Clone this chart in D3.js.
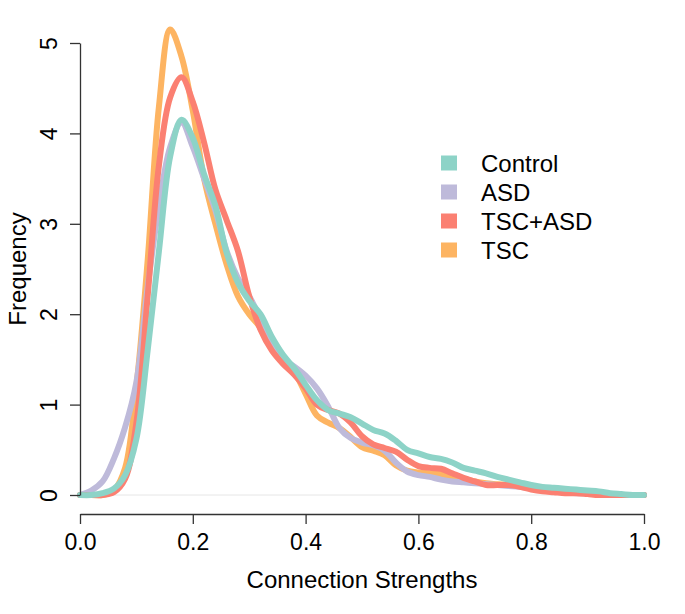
<!DOCTYPE html>
<html>
<head>
<meta charset="utf-8">
<script src="https://cdn.jsdelivr.net/npm/d3@7"></script>
<style>
  html, body { margin: 0; padding: 0; background: #fff; }
  svg text { font-family: "Liberation Sans", Arial, Helvetica, sans-serif; fill: #000; }
</style>
</head>
<body>
<svg id="chart" width="685" height="614"></svg>
<script>
const xValues = [0.00,0.02,0.04,0.06,0.08,0.10,0.12,0.14,0.16,0.18,0.20,0.22,0.24,0.26,0.28,0.30,0.32,0.34,0.36,0.38,0.40,0.42,0.44,0.46,0.48,0.50,0.52,0.54,0.56,0.58,0.60,0.62,0.64,0.66,0.68,0.70,0.72,0.74,0.76,0.78,0.80,0.82,0.84,0.86,0.88,0.90,0.92,0.94,0.96,0.98,1.00];

const controlValues = [0,0.00,0.02,0.07,0.22,0.62,1.60,2.70,3.75,4.15,3.95,3.55,3.20,2.68,2.35,2.15,2.00,1.75,1.55,1.40,1.22,1.05,0.94,0.90,0.86,0.79,0.72,0.68,0.60,0.50,0.46,0.42,0.40,0.36,0.30,0.27,0.24,0.20,0.17,0.14,0.11,0.09,0.08,0.07,0.06,0.05,0.04,0.02,0.01,0.00,0];
const asdValues = [0,0.05,0.15,0.40,0.75,1.25,2.30,3.20,3.85,4.12,3.85,3.50,3.15,2.70,2.40,2.20,1.95,1.65,1.50,1.42,1.32,1.18,0.98,0.74,0.63,0.58,0.55,0.49,0.36,0.26,0.22,0.20,0.17,0.15,0.14,0.13,0.12,0.11,0.10,0.09,0.07,0.05,0.04,0.03,0.02,0.02,0.01,0.01,0.00,0.00,0];
const tscAsdValues = [0,0.00,0.00,0.03,0.18,0.80,2.20,3.65,4.40,4.62,4.35,3.90,3.38,3.04,2.70,2.20,1.83,1.60,1.45,1.33,1.18,1.00,0.94,0.90,0.80,0.65,0.56,0.52,0.48,0.39,0.32,0.30,0.29,0.24,0.19,0.15,0.11,0.11,0.11,0.09,0.06,0.04,0.03,0.02,0.02,0.01,0.00,0.00,0.00,0.00,0];
const tscValues = [0,0.00,0.00,0.05,0.30,1.20,2.60,4.30,5.15,4.85,4.25,3.50,3.00,2.55,2.20,2.00,1.85,1.62,1.50,1.36,1.12,0.88,0.80,0.74,0.64,0.53,0.49,0.44,0.33,0.27,0.25,0.24,0.23,0.20,0.18,0.15,0.13,0.12,0.11,0.10,0.08,0.06,0.05,0.04,0.03,0.02,0.01,0.01,0.00,0.00,0];

const seriesNames = ["Control","ASD","TSC+ASD","TSC"];
const seriesColors = ["#8DD3C7","#BEBADA","#FB8072","#FDB462"];
const seriesValues = [controlValues, asdValues, tscAsdValues, tscValues];
const drawOrder = [3, 1, 2, 0];

const xTicks = [0, 0.2, 0.4, 0.6, 0.8, 1.0];
const yTicks = [0, 1, 2, 3, 4, 5];
const xTitle = "Connection Strengths";
const yTitle = "Frequency";

const svg = d3.select("#chart");
const x = d3.scaleLinear().domain([0, 1]).range([80, 644]);
const y = d3.scaleLinear().domain([0, 5]).range([495, 43]);

// baseline at 0
svg.append("line")
  .attr("x1", x(0)).attr("x2", x(1))
  .attr("y1", y(0)).attr("y2", y(0))
  .attr("stroke", "#e6e6e6").attr("stroke-width", 1);

const line = d3.line()
  .x((d, i) => x(xValues[i]))
  .y(d => Math.min(y(d), y(0)))
  .curve(d3.curveCatmullRom.alpha(0.5));

drawOrder.forEach(k => {
  svg.append("path")
    .datum(seriesValues[k])
    .attr("d", line)
    .attr("fill", "none")
    .attr("stroke", seriesColors[k])
    .attr("stroke-width", 6)
    .attr("stroke-linejoin", "round")
    .attr("stroke-linecap", "round");
});

// x axis
const xAxis = svg.append("g")
  .attr("transform", "translate(0,514)")
  .call(d3.axisBottom(x).tickValues(xTicks).tickFormat(d3.format(".1f")).tickSize(10).tickSizeOuter(0));
xAxis.select(".domain").attr("stroke", "#333").attr("stroke-width", 1.3);
xAxis.selectAll(".tick line").attr("stroke", "#333").attr("stroke-width", 1.3);
xAxis.selectAll(".tick text")
  .attr("font-size", 23)
  .attr("font-family", "Liberation Sans, Arial, sans-serif")
  .attr("fill", "#000")
  .attr("y", 20)
  .attr("dy", "0.71em");

// y axis
const yAxis = svg.append("g")
  .attr("transform", "translate(80,0)")
  .call(d3.axisLeft(y).tickValues(yTicks).tickFormat(d3.format("d")).tickSize(10).tickSizeOuter(0));
yAxis.select(".domain").attr("stroke", "#333").attr("stroke-width", 1.3);
yAxis.selectAll(".tick line").attr("stroke", "#333").attr("stroke-width", 1.3);
yAxis.selectAll(".tick text")
  .attr("font-size", 23)
  .attr("font-family", "Liberation Sans, Arial, sans-serif")
  .attr("fill", "#000")
  .attr("x", null).attr("dy", null)
  .attr("text-anchor", "middle")
  .attr("transform", "translate(-23,0) rotate(-90)");

// axis titles
svg.append("text")
  .attr("x", x(0.5)).attr("y", 588)
  .attr("text-anchor", "middle")
  .attr("font-size", 24)
  .text(xTitle);

svg.append("text")
  .attr("transform", `translate(26,${y(2.5)}) rotate(-90)`)
  .attr("text-anchor", "middle")
  .attr("font-size", 24)
  .text(yTitle);

// legend
const legend = svg.append("g");
seriesNames.forEach((name, i) => {
  const cy = 163 + i * 29;
  legend.append("rect")
    .attr("x", 441).attr("y", cy - 7.5)
    .attr("width", 16).attr("height", 15)
    .attr("fill", seriesColors[i]);
  legend.append("text")
    .attr("x", 481).attr("y", cy)
    .attr("dy", "0.36em")
    .attr("font-size", 24)
    .text(name);
});
</script>
</body>
</html>
